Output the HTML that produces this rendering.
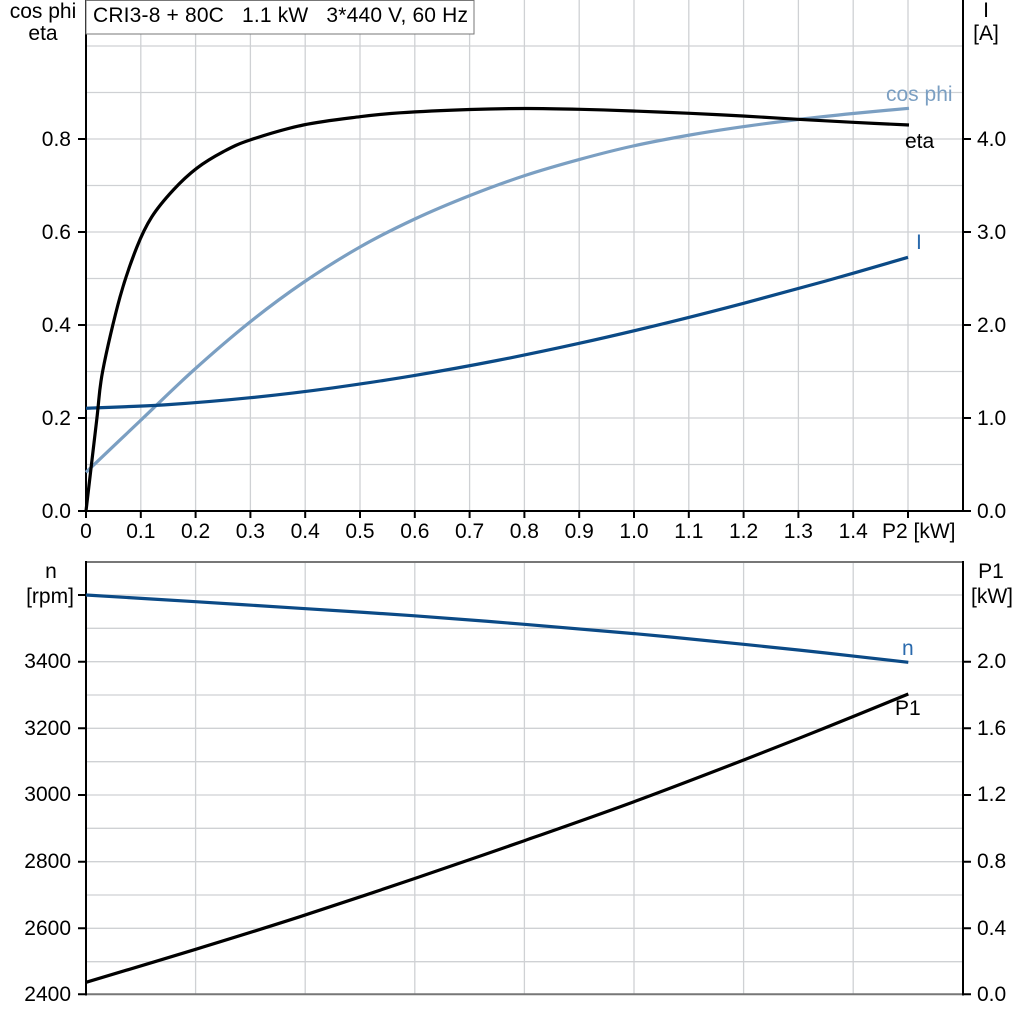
<!DOCTYPE html>
<html><head><meta charset="utf-8"><style>
html,body{margin:0;padding:0;background:#fff;}
svg{display:block;}
text{font-family:"Liberation Sans",Arial,sans-serif;font-size:21px;fill:#000;white-space:pre;}
</style></head><body>
<svg width="1024" height="1024" viewBox="0 0 1024 1024" xmlns="http://www.w3.org/2000/svg">
<rect width="1024" height="1024" fill="#fff"/>
<!-- TOP PLOT grid -->
<g stroke="#cfd1d4" stroke-width="1.3" fill="none">
<path d="M86 464.5H963M86 418H963M86 371.5H963M86 325H963M86 278.5H963M86 232H963M86 185.5H963M86 139H963M86 92.5H963M86 46H963"/>
<path d="M140.8 0V511M195.6 0V511M250.4 0V511M305.2 0V511M360 0V511M414.8 0V511M469.6 0V511M524.4 0V511M579.2 0V511M634 0V511M688.8 0V511M743.6 0V511M798.4 0V511M853.2 0V511M908 0V511"/>
</g>
<!-- top axes -->
<g stroke="#000" stroke-width="2" fill="none">
<path d="M86 0V512M963 0V512M85 511H964"/>
<path d="M78 511H86M78 418H86M78 325H86M78 232H86M78 139H86"/>
<path d="M963 511H971M963 418H971M963 325H971M963 232H971M963 139H971"/>
<path d="M86 511V518M140.8 511V518M195.6 511V518M250.4 511V518M305.2 511V518M360 511V518M414.8 511V518M469.6 511V518M524.4 511V518M579.2 511V518M634 511V518M688.8 511V518M743.6 511V518M798.4 511V518M853.2 511V518M908 511V518"/>
</g>
<!-- title box -->
<rect x="86" y="0.5" width="388" height="33.5" fill="#fff" stroke="#777" stroke-width="1"/>
<text x="93" y="22" xml:space="preserve" textLength="375" lengthAdjust="spacing">CRI3-8 + 80C   1.1 kW   3*440 V, 60 Hz</text>
<!-- top axis labels -->
<text x="43" y="18" text-anchor="middle">cos phi</text>
<text x="43" y="40" text-anchor="middle">eta</text>
<text x="986" y="17" text-anchor="middle">I</text>
<text x="986" y="40" text-anchor="middle">[A]</text>
<g text-anchor="end">
<text x="71" y="518">0.0</text>
<text x="71" y="425">0.2</text>
<text x="71" y="332">0.4</text>
<text x="71" y="239">0.6</text>
<text x="71" y="146">0.8</text>
</g>
<g>
<text x="977" y="518">0.0</text>
<text x="977" y="425">1.0</text>
<text x="977" y="332">2.0</text>
<text x="977" y="239">3.0</text>
<text x="977" y="146">4.0</text>
</g>
<g text-anchor="middle">
<text x="86" y="538">0</text>
<text x="140.8" y="538">0.1</text>
<text x="195.6" y="538">0.2</text>
<text x="250.4" y="538">0.3</text>
<text x="305.2" y="538">0.4</text>
<text x="360" y="538">0.5</text>
<text x="414.8" y="538">0.6</text>
<text x="469.6" y="538">0.7</text>
<text x="524.4" y="538">0.8</text>
<text x="579.2" y="538">0.9</text>
<text x="634" y="538">1.0</text>
<text x="688.8" y="538">1.1</text>
<text x="743.6" y="538">1.2</text>
<text x="798.4" y="538">1.3</text>
<text x="853.2" y="538">1.4</text>
</g>
<text x="882" y="538">P2 [kW]</text>
<!-- top curves -->
<g fill="none" stroke-width="3.2" stroke-linejoin="round" stroke-linecap="butt">
<path id="cosphi" stroke="#7b9fc2" d="M86,472.3 L140,421 L193.3,370.5 L250,322 L303.3,282.5 L360,247 L414.8,219 L470,195.5 L525,175.5 L580,159.3 L633,146 L690,135 L743,126.7 L798,119.5 L853,113.5 L909,108.3"/>
<path id="curI" stroke="#0b4a86" d="M86,408.3 L168.2,404.6 L250.4,397.7 L332.6,387.9 L414.8,375.4 L497,360.5 L579.2,343.35 L661.4,324.2 L743.6,303.3 L825.8,281 L908,257.3"/>
<path id="eta" stroke="#000" d="M86,511 L96.7,420 L102.7,371 L120,297 L136.7,247.5 L151.7,217 L173.3,190 L196.7,168.3 L223.3,151.7 L250,140 L303.3,125 L360,116.7 L400,112.8 L470,109.5 L525,108.5 L580,109.3 L633,111 L690,113.3 L743,116 L798,119.3 L853,122.3 L909,125"/>
</g>
<text x="886" y="101" style="fill:#7b9fc2">cos phi</text>
<text x="905" y="148">eta</text>
<text x="916" y="249" style="fill:#2a6aad">I</text>

<!-- BOTTOM PLOT grid -->
<g stroke="#cfd1d4" stroke-width="1.3" fill="none">
<path d="M86 595H963M86 628.3H963M86 661.7H963M86 695H963M86 728.3H963M86 761.7H963M86 795H963M86 828.3H963M86 861.7H963M86 895H963M86 928.3H963M86 961.7H963"/>
<path d="M195.6 562V994M305.2 562V994M414.8 562V994M524.4 562V994M634 562V994M743.6 562V994M853.2 562V994"/>
</g>
<g stroke="#777" stroke-width="2" fill="none">
<path d="M86 562H963M86 994.3H963"/>
</g>
<g stroke="#000" stroke-width="2" fill="none">
<path d="M86 561V995.5M963 561V995.5"/>
<path d="M78 595H86M78 661.7H86M78 728.3H86M78 795H86M78 861.7H86M78 928.3H86M78 994.3H86"/>
<path d="M963 661.7H971M963 728.3H971M963 795H971M963 861.7H971M963 928.3H971M963 994.3H971"/>
</g>
<text x="51" y="578" text-anchor="middle">n</text>
<text x="50" y="603" text-anchor="middle">[rpm]</text>
<text x="991" y="578" text-anchor="middle">P1</text>
<text x="992" y="603" text-anchor="middle">[kW]</text>
<g text-anchor="end">
<text x="71" y="668">3400</text>
<text x="71" y="735">3200</text>
<text x="71" y="801">3000</text>
<text x="71" y="868">2800</text>
<text x="71" y="935">2600</text>
<text x="71" y="1001">2400</text>
</g>
<g>
<text x="977" y="668">2.0</text>
<text x="977" y="735">1.6</text>
<text x="977" y="801">1.2</text>
<text x="977" y="868">0.8</text>
<text x="977" y="935">0.4</text>
<text x="977" y="1001">0.0</text>
</g>
<g fill="none" stroke-width="3.2" stroke-linejoin="round">
<path id="nline" stroke="#0b4a86" d="M86,595 L195.7,601.7 L300,608.3 L414.7,615.8 L524.3,624.3 L634,633.6 L743.7,644.3 L826,653 L908.3,662.3"/>
<path id="p1line" stroke="#000" d="M86,982.3 L195.7,949.3 L300,916.7 L414.7,878.5 L524.3,840.7 L634,801.7 L743.7,760 L826,727.5 L908.3,694"/>
</g>
<text x="902" y="655" style="fill:#2a6aad">n</text>
<text x="895" y="715">P1</text>
</svg>
<script>
(function(){
  var ids=["cosphi","curI","eta","nline","p1line"];
  ids.forEach(function(id){
    var el=document.getElementById(id);
    if(!el)return;
    var d=el.getAttribute("d").replace(/[ML]/g," ").trim().split(/\s+/);
    var p=d.map(function(s){var a=s.split(",");return [parseFloat(a[0]),parseFloat(a[1])];});
    var n=p.length, out="M"+p[0][0]+","+p[0][1];
    for(var i=0;i<n-1;i++){
      var p0=p[Math.max(i-1,0)],p1=p[i],p2=p[i+1],p3=p[Math.min(i+2,n-1)];
      var c1x=p1[0]+(p2[0]-p0[0])/6,c1y=p1[1]+(p2[1]-p0[1])/6;
      var c2x=p2[0]-(p3[0]-p1[0])/6,c2y=p2[1]-(p3[1]-p1[1])/6;
      out+=" C"+c1x.toFixed(2)+","+c1y.toFixed(2)+" "+c2x.toFixed(2)+","+c2y.toFixed(2)+" "+p2[0]+","+p2[1];
    }
    el.setAttribute("d",out);
  });
})();
</script>
</body></html>
